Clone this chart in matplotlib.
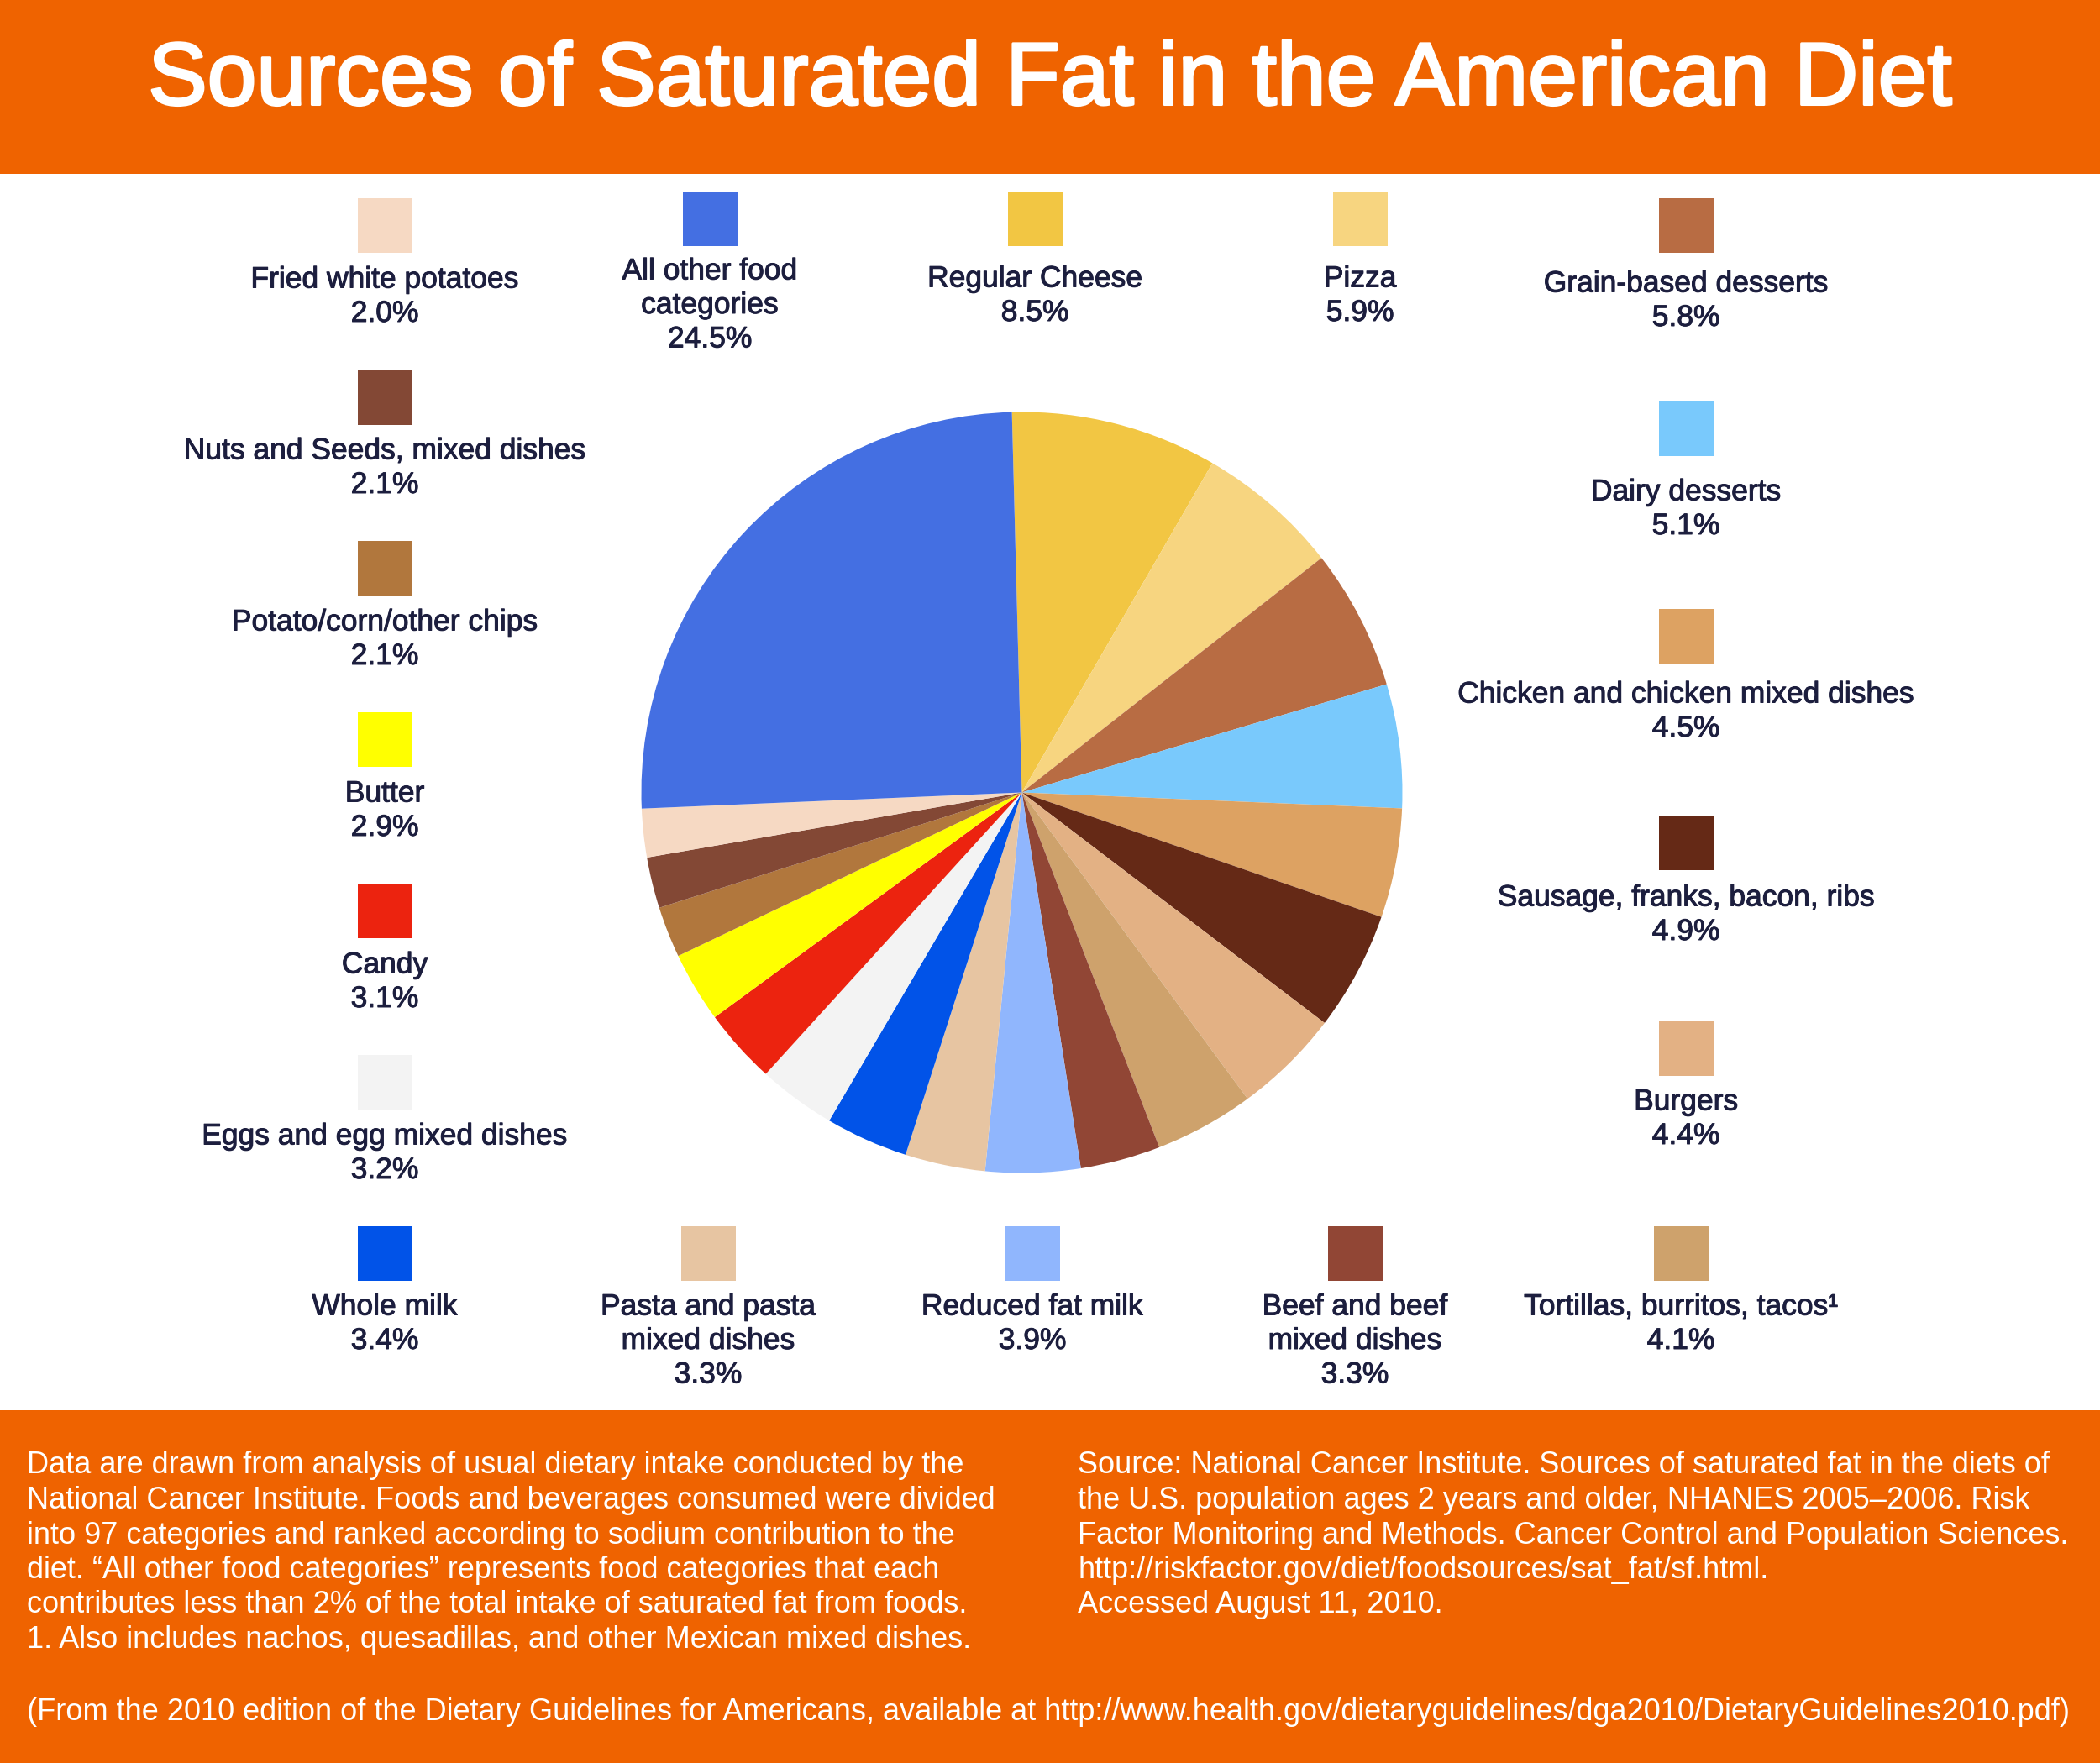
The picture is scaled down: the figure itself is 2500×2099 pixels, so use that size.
import matplotlib
matplotlib.use("Agg")
import matplotlib.pyplot as plt
import matplotlib.patheffects as pe
from matplotlib.patches import Rectangle

plt.rcParams['font.family'] = ['Liberation Sans', 'DejaVu Sans']

# pie order, clockwise from the top
categories = ["Regular Cheese", "Pizza", "Grain-based desserts", "Dairy desserts",
              "Chicken and chicken mixed dishes", "Sausage, franks, bacon, ribs", "Burgers",
              "Tortillas, burritos, tacos\u00b9", "Beef and beef\nmixed dishes", "Reduced fat milk",
              "Pasta and pasta\nmixed dishes", "Whole milk", "Eggs and egg mixed dishes", "Candy",
              "Butter", "Potato/corn/other chips", "Nuts and Seeds, mixed dishes",
              "Fried white potatoes", "All other food\ncategories"]
values = [8.5, 5.9, 5.8, 5.1, 4.5, 4.9, 4.4, 4.1, 3.3, 3.9, 3.3, 3.4, 3.2, 3.1, 2.9, 2.1, 2.1, 2.0, 24.5]
colors = ["#F2C643", "#F7D580", "#B86C43", "#79C9FC", "#DDA262", "#652916", "#E3B184",
          "#CEA26C", "#914635", "#90B6FD", "#E7C5A2", "#0153E8", "#F3F3F3", "#EC230F",
          "#FFFF00", "#B1773D", "#834835", "#F6D9C3", "#446FE2"]

# legend layout (square centre x, square centre y, first text line y), in pixels
legend_pos = [(1232, 260, 332), (1619, 260, 332), (2007, 268, 338), (2007, 510, 586),
              (2007, 757, 827), (2007, 1003, 1069), (2007, 1248, 1312),
              (2001, 1492, 1556), (1613, 1492, 1556), (1229, 1492, 1556),
              (843, 1492, 1556), (458, 1492, 1556), (458, 1288, 1353), (458, 1084, 1149),
              (458, 880, 945), (458, 676, 741), (458, 473, 537),
              (458, 268, 333), (845, 260, 323)]

footer_left = ["Data are drawn from analysis of usual dietary intake conducted by the",
               "National Cancer Institute. Foods and beverages consumed were divided",
               "into 97 categories and ranked according to sodium contribution to the",
               "diet. \u201cAll other food categories\u201d represents food categories that each",
               "contributes less than 2% of the total intake of saturated fat from foods.",
               "1. Also includes nachos, quesadillas, and other Mexican mixed dishes."]
footer_right = ["Source: National Cancer Institute. Sources of saturated fat in the diets of",
                "the U.S. population ages 2 years and older, NHANES 2005\u20132006. Risk",
                "Factor Monitoring and Methods. Cancer Control and Population Sciences.",
                "http://riskfactor.gov/diet/foodsources/sat_fat/sf.html.",
                "Accessed August 11, 2010."]
footer_note = ("(From the 2010 edition of the Dietary Guidelines for Americans, available at "
               "http://www.health.gov/dietaryguidelines/dga2010/DietaryGuidelines2010.pdf)")

W, H = 2500, 2099
ORANGE = "#EF6300"
INK = "#1C1E3E"

fig = plt.figure(figsize=(W / 100, H / 100), dpi=100)
ax = fig.add_axes([0, 0, 1, 1])
ax.set_xlim(0, W)
ax.set_ylim(H, 0)
ax.axis('off')

ax.add_patch(Rectangle((0, 0), W, 207, color=ORANGE, lw=0))
ax.add_patch(Rectangle((0, 1679), W, H - 1679, color=ORANGE, lw=0))
ax.text(W / 2, 97, "Sources of Saturated Fat in the American Diet", color="white",
        fontsize=76, ha='center', va='center',
        path_effects=[pe.withStroke(linewidth=2.2, foreground="white")])

sq = 65
ink_fx = [pe.withStroke(linewidth=0.7, foreground=INK)]
for lab, val, col, (cx, cy, ty) in zip(categories, values, colors, legend_pos):
    ax.add_patch(Rectangle((cx - sq / 2, cy - sq / 2), sq, sq, color=col, lw=0))
    lines = lab.split("\n") + [f"{val}%"]
    for i, line in enumerate(lines):
        ax.text(cx, ty + i * 40.5, line, color=INK, fontsize=25.5, ha='center',
                va='center', path_effects=ink_fx)

for i, line in enumerate(footer_left):
    ax.text(32, 1745 + i * 41.5, line, color="white", fontsize=26, ha='left', va='center')
for i, line in enumerate(footer_right):
    ax.text(1283, 1745 + i * 41.5, line, color="white", fontsize=26, ha='left', va='center')
ax.text(32, 2038, footer_note, color="white", fontsize=26, ha='left', va='center')

# pie
cx, cy, r = 1216.5, 943.5, 453
pax = fig.add_axes([(cx - r) / W, 1 - (cy + r) / H, 2 * r / W, 2 * r / H])
pax.pie(values, colors=colors, startangle=91.5, counterclock=False,
        wedgeprops=dict(linewidth=0))
pax.set_xlim(-1, 1)
pax.set_ylim(-1, 1)
pax.set_aspect('auto')

fig.savefig("out.png", dpi=100)
